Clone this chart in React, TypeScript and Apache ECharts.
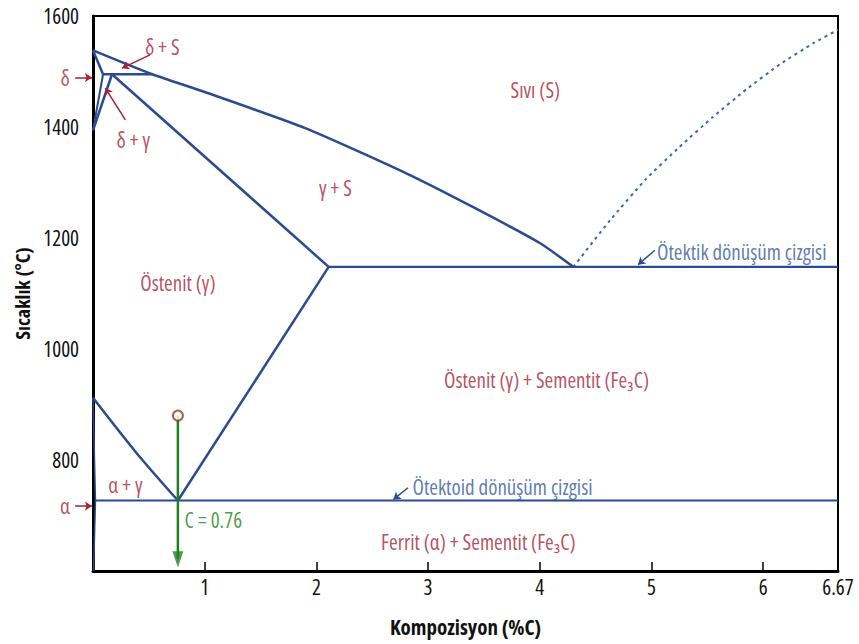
import React, { useEffect, useRef } from "react";
import * as echarts from "echarts";

// Phase boundaries of the Fe–Fe3C diagram: [composition %C, temperature °C]
const liquidus = [[0, 1538], [0.53, 1495], [1.0, 1463], [1.9, 1398], [2.8, 1317], [3.4, 1256], [4.0, 1191], [4.3, 1148]];
const hyperLiquidus = [[4.3, 1148], [4.63, 1232], [4.95, 1306], [5.25, 1364], [5.55, 1418], [5.85, 1468], [6.15, 1513], [6.45, 1551], [6.67, 1575]];
const deltaSolidus = [[0, 1538], [0.09, 1495]];
const peritectic = [[0.09, 1495], [0.53, 1495]];
const deltaGammaLeft = [[0.09, 1495], [0, 1394]];
const deltaGammaRight = [[0.17, 1495], [0, 1394]];
const gammaSolidus = [[0.17, 1495], [2.11, 1148]];
const eutecticLine = [[2.11, 1148], [6.67, 1148]];
const acmLine = [[0.76, 727], [2.11, 1148]];
const a3Line = [[0, 912], [0.38, 815], [0.76, 727]];
const alphaBoundary = [[0, 912], [0.022, 727], [0.005, 600]];
const eutectoidLine = [[0.022, 727], [6.67, 727]];

// Eutectoid composition marker (C = 0.76)
const compositionLine = [[0.76, 880], [0.76, 622]];
const compositionStart = [0.76, 880];
const compositionArrowHead = [0.76, 621];

// Region labels: [x, y, text, align]
const redLabels: [number, number, string, string][] = [
  [0.62, 1544, "δ + S", "center"],
  [-0.25, 1489, "δ", "center"],
  [0.36, 1376, "δ + γ", "center"],
  [3.96, 1467, "Sıvı (S)", "center"],
  [2.17, 1290, "γ + S", "center"],
  [0.76, 1119, "Östenit (γ)", "center"],
  [4.06, 944, "Östenit (γ) + Sementit (Fe₃C)", "center"],
  [0.29, 755, "α + γ", "center"],
  [-0.25, 717, "α", "center"],
  [3.45, 652, "Ferrit (α) + Sementit (Fe₃C)", "center"],
];
const blueLabels: [number, number, string, string][] = [
  [5.05, 1175, "Ötektik dönüşüm çizgisi", "left"],
  [2.86, 751, "Ötektoid dönüşüm çizgisi", "left"],
];
const greenLabels: [number, number, string, string][] = [
  [0.82, 692, "C = 0.76", "left"],
];

// Pointer arrows: [fromX, fromY, toX, toY]
const redArrows = [
  [0.51, 1530, 0.26, 1506],
  [-0.16, 1489, -0.01, 1489],
  [0.29, 1413, 0.11, 1470],
  [-0.16, 717, -0.01, 717],
];
const blueArrows = [
  [5.03, 1178, 4.88, 1152],
  [2.82, 750, 2.69, 729],
];

const xTicks = { min: 0, max: 6.67, interval: 1 };
const yTicks = { min: 600, max: 1600, interval: 200 };

// Open Sans is a variable font with a width axis; ask for its condensed cut.
const FONT = "'Open Sans';font-stretch:condensed";
const RED = "#a81f36";
const BLUE = "#2a4b8d";
const DASH_BLUE = "#3d66ac";
const BLUE_TEXT = "#375b99";
const GREEN = "#1f7f22";

function boundary(name: string, data: number[][], width = 2.5, type: any = "solid", color = BLUE, smooth: any = false) {
  return {
    name,
    type: "line",
    data,
    showSymbol: false,
    symbol: "none",
    smooth,
    clip: false,
    silent: true,
    lineStyle: { color, width, type },
    z: 3,
  };
}

function labelSeries(name: string, items: [number, number, string, string][], color: string, size: number) {
  return {
    name,
    type: "scatter",
    symbolSize: 0,
    clip: false,
    silent: true,
    z: 6,
    data: items.map(([x, y, t, align]) => ({
      value: [x, y],
      name: t,
      label: { align },
    })),
    label: {
      show: true,
      position: "inside",
      formatter: "{b}",
      color,
      fontSize: size,
      fontFamily: FONT,
    },
  };
}

function arrowSeries(name: string, list: number[][], color: string) {
  return {
    name,
    type: "lines",
    coordinateSystem: "cartesian2d",
    clip: false,
    silent: true,
    z: 5,
    symbol: ["none", "arrow"],
    symbolSize: 7,
    lineStyle: { color, width: 1.5, opacity: 1, curveness: 0 },
    data: list.map(([x1, y1, x2, y2]) => ({ coords: [[x1, y1], [x2, y2]] })),
  };
}

export default function App() {
  const ref = useRef<HTMLDivElement>(null);
  useEffect(() => {
    if (!ref.current) return;
    const chart = echarts.init(ref.current, undefined, { renderer: "svg" });
    chart.setOption({
      animation: false,
      backgroundColor: "#fff",
      grid: { left: 93, top: 16, right: 21, bottom: 73, show: true, borderColor: "#000", borderWidth: 2 },
      xAxis: {
        type: "value",
        ...xTicks,
        name: "Kompozisyon (%C)",
        nameLocation: "middle",
        nameGap: 51,
        nameTextStyle: { fontFamily: FONT, fontWeight: "bold", fontSize: 21, color: "#111" },
        axisLine: { show: true, lineStyle: { color: "#000", width: 3 } },
        axisTick: { show: true, inside: true, length: 9, lineStyle: { color: "#000", width: 1.5 } },
        axisLabel: { showMinLabel: false, margin: 11, fontFamily: FONT, fontSize: 21, color: "#111", formatter: (v: number) => String(v) },
        splitLine: { show: false },
      },
      yAxis: {
        type: "value",
        ...yTicks,
        name: "Sıcaklık (°C)",
        nameLocation: "middle",
        nameGap: 66,
        nameTextStyle: { fontFamily: FONT, fontWeight: "bold", fontSize: 20, color: "#111" },
        axisLine: { show: true, lineStyle: { color: "#000", width: 3 } },
        axisTick: { show: false },
        axisLabel: { showMinLabel: false, margin: 14, fontFamily: FONT, fontSize: 21, color: "#111", formatter: (v: number) => String(v) },
        splitLine: { show: false },
      },
      series: [
        boundary("liquidus", liquidus, 2.5, "solid", BLUE, 0.2),
        boundary("hyperLiquidus", hyperLiquidus, 2, [3, 4], DASH_BLUE, 0.15),
        boundary("deltaSolidus", deltaSolidus),
        boundary("peritectic", peritectic),
        boundary("deltaGammaLeft", deltaGammaLeft, 2),
        boundary("deltaGammaRight", deltaGammaRight),
        boundary("gammaSolidus", gammaSolidus),
        boundary("eutectic", eutecticLine, 2.2),
        boundary("acm", acmLine),
        boundary("a3", a3Line, 2.5, "solid", BLUE, 0.3),
        boundary("alpha", alphaBoundary, 1.5),
        boundary("eutectoid", eutectoidLine, 2.2),
        {
          name: "composition",
          type: "line",
          data: compositionLine,
          symbol: "none",
          clip: false,
          silent: true,
          z: 6,
          lineStyle: { color: GREEN, width: 2.5 },
        },
        {
          name: "compositionArrow",
          type: "scatter",
          data: [compositionArrowHead],
          symbol: "triangle",
          symbolRotate: 180,
          symbolSize: [11, 16],
          clip: false,
          silent: true,
          z: 6,
          itemStyle: { color: GREEN },
        },
        {
          name: "start",
          type: "scatter",
          data: [compositionStart],
          symbol: "circle",
          symbolSize: 10,
          clip: false,
          silent: true,
          z: 7,
          itemStyle: { color: "#fff", borderColor: "#8a3a1e", borderWidth: 2 },
        },
        arrowSeries("redArrows", redArrows, RED),
        arrowSeries("blueArrows", blueArrows, BLUE),
        labelSeries("redLabels", redLabels, RED, 21),
        labelSeries("blueLabels", blueLabels, BLUE_TEXT, 21),
        labelSeries("greenLabels", greenLabels, GREEN, 21),
      ],
    });
    return () => chart.dispose();
  }, []);
  return <div ref={ref} style={{ position: "fixed", left: 0, top: 0, width: 859, height: 644 }} />;
}
